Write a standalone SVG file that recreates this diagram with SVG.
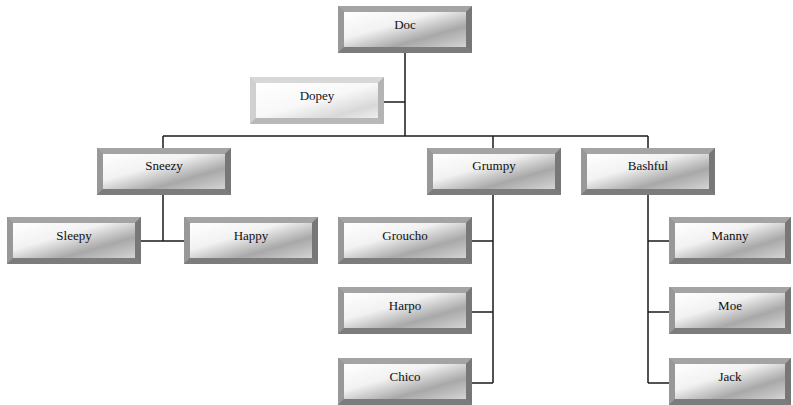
<svg xmlns="http://www.w3.org/2000/svg" xmlns:xlink="http://www.w3.org/1999/xlink" width="793" height="405" viewBox="0 0 793 405">
<style>
.lbl{font-family:"Liberation Serif","Times New Roman",serif;font-size:13px;fill:#111;text-anchor:middle}
.con line{stroke:#1a1a1a;stroke-width:1.5}
</style>
<defs>
<linearGradient id="face" x1="0" y1="0" x2="1" y2="1">
<stop offset="0" stop-color="#ffffff"/>
<stop offset="0.38" stop-color="#f2f2f2"/>
<stop offset="0.7" stop-color="#a8a8a8"/>
<stop offset="1" stop-color="#d4d4d4"/>
</linearGradient>
<linearGradient id="faceL" x1="0" y1="0" x2="1" y2="1">
<stop offset="0" stop-color="#ffffff"/>
<stop offset="0.5" stop-color="#f8f8f8"/>
<stop offset="0.8" stop-color="#d8d8d8"/>
<stop offset="1" stop-color="#eeeeee"/>
</linearGradient>
<symbol id="box" overflow="visible">
<rect x="0" y="0" width="134" height="47" fill="#8a8a8a"/>
<polygon points="0,0 134,0 128,6 6,6" fill="#a4a4a4"/>
<polygon points="0,0 6,6 6,41 0,47" fill="#989898"/>
<polygon points="134,0 134,47 128,41 128,6" fill="#777"/>
<polygon points="0,47 134,47 128,41 6,41" fill="#7c7c7c"/>
<rect x="6" y="6" width="122" height="35" fill="url(#face)"/>
</symbol>
<symbol id="boxN" overflow="visible">
<rect x="0" y="0" width="122" height="47" fill="#8a8a8a"/>
<polygon points="0,0 122,0 116,6 6,6" fill="#a4a4a4"/>
<polygon points="0,0 6,6 6,41 0,47" fill="#989898"/>
<polygon points="122,0 122,47 116,41 116,6" fill="#777"/>
<polygon points="0,47 122,47 116,41 6,41" fill="#7c7c7c"/>
<rect x="6" y="6" width="110" height="35" fill="url(#face)"/>
</symbol>
<symbol id="boxL" overflow="visible">
<rect x="0" y="0" width="134" height="47" fill="#c4c4c4"/>
<polygon points="0,0 134,0 128,6 6,6" fill="#d8d8d8"/>
<polygon points="0,0 6,6 6,41 0,47" fill="#d0d0d0"/>
<polygon points="134,0 134,47 128,41 128,6" fill="#b4b4b4"/>
<polygon points="0,47 134,47 128,41 6,41" fill="#b8b8b8"/>
<rect x="6" y="6" width="122" height="35" fill="url(#faceL)"/>
</symbol>
</defs>
<rect width="793" height="405" fill="#fff"/>
<g id="connectors" class="con">
<line x1="405" y1="53" x2="405" y2="136"/>
<line x1="383" y1="102" x2="405" y2="102"/>
<line x1="163" y1="136" x2="648" y2="136"/>
<line x1="163" y1="136" x2="163" y2="148"/>
<line x1="493" y1="136" x2="493" y2="148"/>
<line x1="648" y1="136" x2="648" y2="148"/>
<line x1="163" y1="195" x2="163" y2="241"/>
<line x1="140" y1="241" x2="184" y2="241"/>
<line x1="493" y1="195" x2="493" y2="383"/>
<line x1="472" y1="241" x2="493" y2="241"/>
<line x1="472" y1="312" x2="493" y2="312"/>
<line x1="472" y1="383" x2="493" y2="383"/>
<line x1="648" y1="195" x2="648" y2="383"/>
<line x1="648" y1="241" x2="669" y2="241"/>
<line x1="648" y1="312" x2="669" y2="312"/>
<line x1="648" y1="383" x2="669" y2="383"/>
</g>
<g id="doc"><use xlink:href="#box" x="338" y="6"/><text class="lbl" x="405" y="29">Doc</text></g>
<g id="dopey"><use xlink:href="#boxL" x="250" y="77"/><text class="lbl" x="317" y="100">Dopey</text></g>
<g id="sneezy"><use xlink:href="#box" x="97" y="148"/><text class="lbl" x="164" y="170">Sneezy</text></g>
<g id="grumpy"><use xlink:href="#box" x="427" y="148"/><text class="lbl" x="494" y="170">Grumpy</text></g>
<g id="bashful"><use xlink:href="#box" x="581" y="148"/><text class="lbl" x="648" y="170">Bashful</text></g>
<g id="sleepy"><use xlink:href="#box" x="7" y="217"/><text class="lbl" x="74" y="240">Sleepy</text></g>
<g id="happy"><use xlink:href="#box" x="184" y="217"/><text class="lbl" x="251" y="240">Happy</text></g>
<g id="groucho"><use xlink:href="#box" x="338" y="217"/><text class="lbl" x="405" y="240">Groucho</text></g>
<g id="harpo"><use xlink:href="#box" x="338" y="287"/><text class="lbl" x="405" y="310">Harpo</text></g>
<g id="chico"><use xlink:href="#box" x="338" y="358"/><text class="lbl" x="405" y="381">Chico</text></g>
<g id="manny"><use xlink:href="#boxN" x="669" y="217"/><text class="lbl" x="730" y="240">Manny</text></g>
<g id="moe"><use xlink:href="#boxN" x="669" y="287"/><text class="lbl" x="730" y="310">Moe</text></g>
<g id="jack"><use xlink:href="#boxN" x="669" y="358"/><text class="lbl" x="730" y="381">Jack</text></g>
</svg>
